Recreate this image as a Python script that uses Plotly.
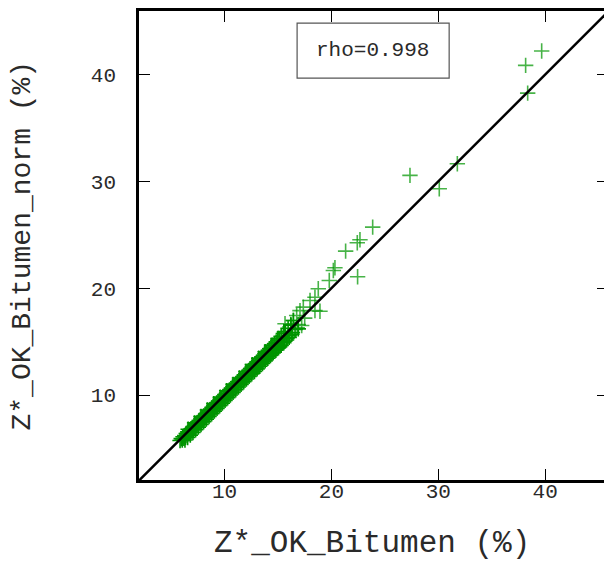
import plotly.graph_objects as go

# Dense band of points close to the 1:1 line
x_dense = [5.84, 5.95, 6.05, 6.12, 6.20, 6.28, 6.35, 6.42, 6.50, 6.58, 6.66, 6.73, 6.80, 6.88, 6.95,
           7.02, 7.10, 7.18, 7.25, 7.33, 7.40, 7.48, 7.55, 7.63, 7.70, 7.78, 7.85, 7.93,
           8.00, 8.08, 8.15, 8.23, 8.30, 8.38, 8.45, 8.53, 8.60, 8.68, 8.75, 8.83, 8.90, 8.98,
           9.05, 9.13, 9.20, 9.28, 9.35, 9.43, 9.50, 9.58, 9.65, 9.73, 9.80, 9.88, 9.95,
           10.03, 10.10, 10.18, 10.25, 10.33, 10.40, 10.48, 10.55, 10.63, 10.70, 10.78, 10.85, 10.93,
           11.00, 11.08, 11.15, 11.23, 11.30, 11.38, 11.45, 11.53, 11.60, 11.68, 11.75, 11.83, 11.90, 11.98,
           12.05, 12.13, 12.20, 12.28, 12.35, 12.43, 12.50, 12.58, 12.65, 12.73, 12.80, 12.88, 12.95,
           13.03, 13.10, 13.18, 13.25, 13.33, 13.40, 13.48, 13.55, 13.63, 13.70, 13.78, 13.85, 13.93,
           14.00, 14.08, 14.15, 14.23, 14.30, 14.38, 14.45, 14.53, 14.60, 14.68, 14.75, 14.83, 14.90, 14.98,
           15.05, 15.13, 15.20, 15.30, 15.40, 15.50, 15.60, 15.70, 15.85, 15.95, 16.05, 16.20, 16.35, 16.45, 16.60]
y_dense = [5.75, 5.92, 5.78, 6.10, 5.95, 6.21, 6.05, 6.40, 6.22, 6.55, 6.38, 6.70, 6.52, 6.85, 6.66,
           6.98, 6.80, 7.15, 6.95, 7.30, 7.12, 7.44, 7.25, 7.62, 7.40, 7.76, 7.55, 7.90,
           7.70, 8.05, 7.85, 8.22, 7.98, 8.36, 8.12, 8.52, 8.28, 8.66, 8.42, 8.82, 8.58, 8.97,
           8.72, 9.12, 8.88, 9.27, 9.02, 9.42, 9.18, 9.57, 9.32, 9.72, 9.48, 9.87, 9.62,
           10.02, 9.78, 10.17, 9.92, 10.33, 10.08, 10.47, 10.22, 10.63, 10.38, 10.78, 10.52, 10.93,
           10.68, 11.08, 10.82, 11.24, 10.98, 11.38, 11.12, 11.54, 11.28, 11.69, 11.42, 11.85, 11.58, 12.00,
           11.72, 12.16, 11.86, 12.30, 12.00, 12.46, 12.15, 12.62, 12.30, 12.77, 12.44, 12.93, 12.58,
           13.08, 12.72, 13.24, 12.88, 13.38, 13.02, 13.55, 13.15, 13.70, 13.30, 13.86, 13.44, 14.02,
           13.58, 14.17, 13.72, 14.33, 13.86, 14.48, 14.00, 14.64, 14.12, 14.80, 14.28, 14.96, 14.40, 15.12,
           14.55, 15.28, 14.68, 15.50, 14.90, 15.75, 15.05, 15.95, 15.30, 16.25, 15.55, 16.55, 15.85, 16.98, 16.15]

# Points along the lower edge of the band
x_low = [6.30, 6.55, 6.80, 7.05, 7.30, 7.55, 7.80, 8.05, 8.30, 8.55, 8.80, 9.05, 9.30, 9.55, 9.80,
         10.05, 10.30, 10.55, 10.80, 11.05, 11.30, 11.55, 11.80, 12.05, 12.30, 12.55, 12.80, 13.05,
         13.30, 13.55, 13.80, 14.05, 14.30, 14.55, 14.80, 15.05, 15.30, 15.55, 15.80, 16.05, 16.30, 16.90]
y_low = [5.80, 6.03, 6.25, 6.50, 6.75, 7.00, 7.25, 7.50, 7.75, 8.00, 8.25, 8.50, 8.75, 9.00, 9.25,
         9.50, 9.75, 10.00, 10.25, 10.50, 10.75, 11.00, 11.25, 11.50, 11.75, 11.98, 12.20, 12.45,
         12.70, 12.95, 13.20, 13.45, 13.70, 13.95, 14.20, 14.42, 14.65, 14.90, 15.15, 15.40, 15.70, 16.20]

# Points along the upper edge of the band
x_high = [6.6, 7.2, 7.8, 8.4, 9.0, 9.6, 10.2, 10.8, 11.4, 12.0, 12.6, 13.2, 13.8, 14.4, 15.0, 15.6, 16.2]
y_high = [6.8, 7.4, 8.0, 8.6, 9.2, 9.8, 10.4, 11.0, 11.6, 12.2, 12.85, 13.45, 14.05, 14.65, 15.3, 15.9, 16.55]

# Scattered points in the upper range
x_sparse = [16.43, 16.75, 17.22, 15.66, 17.06, 17.37, 18.00, 18.46, 18.93, 18.46, 18.77, 19.80,
            20.18, 20.33, 21.33, 22.42, 22.67, 22.45, 23.86, 27.35, 30.09, 31.78, 38.17, 38.36, 39.67,
            16.20, 16.80, 16.90, 17.50]
y_sparse = [16.98, 17.45, 16.51, 16.67, 17.90, 18.23, 18.85, 17.90, 17.85, 19.16, 19.95, 20.73,
            21.66, 21.92, 23.47, 24.26, 24.54, 21.08, 25.72, 30.56, 29.31, 31.65, 40.86, 38.26, 42.20,
            16.60, 16.30, 16.60, 17.20]

line_xy = [2, 46]
x_ticks = [10, 20, 30, 40]
y_ticks = [10, 20, 30, 40]
x_range = [2.0, 45.5]
y_range = [2.05, 45.95]
rho_text = "rho=0.998"

FONT = "Liberation Mono"
TXT = "#2a2a2a"

fig = go.Figure()
fig.add_trace(go.Scatter(
    x=x_dense + x_low + x_high, y=y_dense + y_low + y_high, mode="markers",
    marker=dict(symbol="cross-thin", size=11, line=dict(color="rgb(0,148,0)", width=1.6)),
    showlegend=False, hoverinfo="skip"))
fig.add_trace(go.Scatter(
    x=x_sparse, y=y_sparse, mode="markers",
    marker=dict(symbol="cross-thin", size=11, line=dict(color="rgba(0,150,0,0.72)", width=1.6)),
    showlegend=False, hoverinfo="skip"))
fig.add_trace(go.Scatter(x=line_xy, y=line_xy, mode="lines",
                         line=dict(color="black", width=2.5), showlegend=False))
# invisible trace to activate the right-side mirrored ticks axis
fig.add_trace(go.Scatter(x=[None], y=[None], yaxis="y2", showlegend=False))

axis_common = dict(ticks="inside", ticklen=11, tickwidth=1.3, tickcolor="black",
                   showgrid=False, zeroline=False, showline=True, linecolor="black",
                   linewidth=2.5, tickfont=dict(family=FONT, size=21, color=TXT),
                   automargin=False)

fig.update_layout(
    width=604, height=561,
    margin=dict(l=139, r=0, t=11, b=81),
    paper_bgcolor="white", plot_bgcolor="white",
    xaxis=dict(range=x_range, tickvals=x_ticks, mirror="ticks", ticklabelstandoff=-10, **axis_common),
    yaxis=dict(range=y_range, tickvals=y_ticks, mirror=False, ticklabelstandoff=16, **axis_common),
    yaxis2=dict(range=y_range, tickvals=y_ticks, overlaying="y", side="right",
                ticks="inside", ticklen=7, tickwidth=1.3, tickcolor="black",
                showticklabels=False, showgrid=False, zeroline=False, showline=False),
    shapes=[dict(type="rect", xref="paper", yref="paper",
                 x0=0.340, x1=0.667, y0=0.857, y1=0.974,
                 line=dict(color="#555", width=1.2), fillcolor="white")],
    annotations=[
        dict(text=rho_text, xref="paper", yref="paper", x=0.503, y=0.9155,
             showarrow=False, font=dict(family=FONT, size=21, color=TXT),
             xanchor="center", yanchor="middle"),
        dict(text="Z*_OK_Bitumen (%)", xref="paper", yref="paper", x=0.5, y=-0.1345,
             showarrow=False, font=dict(family=FONT, size=31, color=TXT),
             xanchor="center", yanchor="middle"),
        dict(text="Z*_OK_Bitumen_norm (%)", xref="paper", yref="paper", x=-0.2516, y=0.5,
             showarrow=False, textangle=-90, font=dict(family=FONT, size=28, color=TXT),
             xanchor="center", yanchor="middle"),
    ],
)

fig.write_html("out.html")
